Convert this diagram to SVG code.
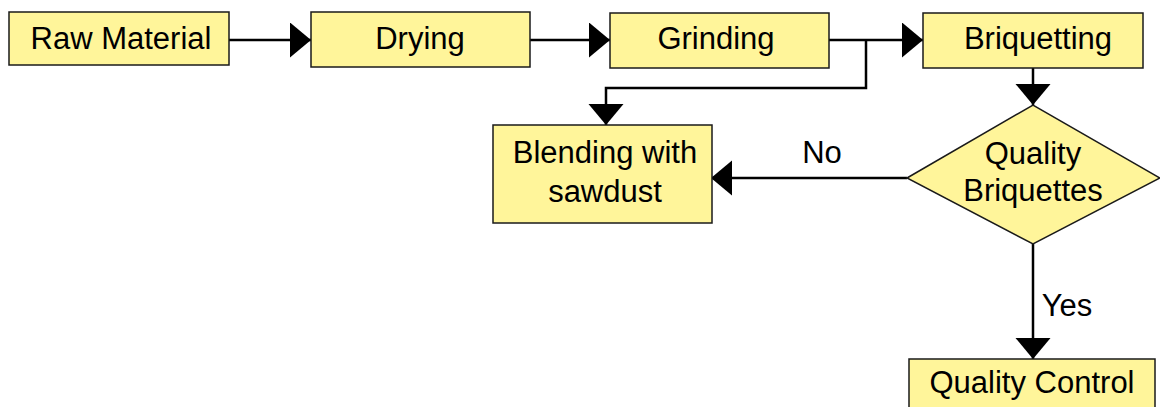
<svg xmlns="http://www.w3.org/2000/svg" width="1160" height="407" viewBox="0 0 1160 407">
  <style>
    .box { fill: #fff59a; stroke: #1a1a1a; stroke-width: 1.5; }
    .lbl { font-family: "Liberation Sans", Arial, sans-serif; font-size: 31px; fill: #000; text-anchor: middle; }
    .wire { fill: none; stroke: #000; stroke-width: 2.5; }
    .head { fill: #000; stroke: none; }
  </style>
  <defs>
    <marker id="arrow" markerUnits="userSpaceOnUse" markerWidth="22" markerHeight="36" refX="21" refY="17.5" orient="auto">
      <path class="head" d="M0,0 L21,17.5 L0,35 Z"/>
    </marker>
  </defs>
  <rect width="1160" height="407" fill="#fff"/>

  <g id="connectors">
    <path class="wire" d="M229,40 H311" marker-end="url(#arrow)"/>
    <path class="wire" d="M530,40 H610" marker-end="url(#arrow)"/>
    <path class="wire" d="M829,40 H923" marker-end="url(#arrow)"/>
    <path class="wire" d="M866,40 V88 H606 V125" marker-end="url(#arrow)"/>
    <path class="wire" d="M1033,68 V105" marker-end="url(#arrow)"/>
    <path class="wire" d="M907,178 H711" marker-end="url(#arrow)"/>
    <path class="wire" d="M1033,244 V359" marker-end="url(#arrow)"/>
    <text class="lbl" x="822" y="163">No</text>
    <text class="lbl" x="1067" y="316">Yes</text>
  </g>

  <g id="raw-material">
    <rect class="box" x="9" y="12" width="220" height="53"/>
    <text class="lbl" x="121" y="49">Raw Material</text>
  </g>
  <g id="drying">
    <rect class="box" x="311" y="12" width="219" height="55"/>
    <text class="lbl" x="420" y="49">Drying</text>
  </g>
  <g id="grinding">
    <rect class="box" x="610" y="13" width="219" height="55"/>
    <text class="lbl" x="716" y="49">Grinding</text>
  </g>
  <g id="briquetting">
    <rect class="box" x="923" y="13" width="220" height="55"/>
    <text class="lbl" x="1038" y="49">Briquetting</text>
  </g>
  <g id="blending">
    <rect class="box" x="493" y="125" width="219" height="98"/>
    <text class="lbl" x="605" y="163">Blending with</text>
    <text class="lbl" x="605" y="202">sawdust</text>
  </g>
  <g id="quality-briquettes">
    <polygon class="box" points="907,178 1033,105 1160,178 1033,244"/>
    <text class="lbl" x="1033" y="164">Quality</text>
    <text class="lbl" x="1033" y="201">Briquettes</text>
  </g>
  <g id="quality-control">
    <rect class="box" x="909" y="359" width="246" height="60"/>
    <text class="lbl" x="1032" y="393">Quality Control</text>
  </g>
</svg>
